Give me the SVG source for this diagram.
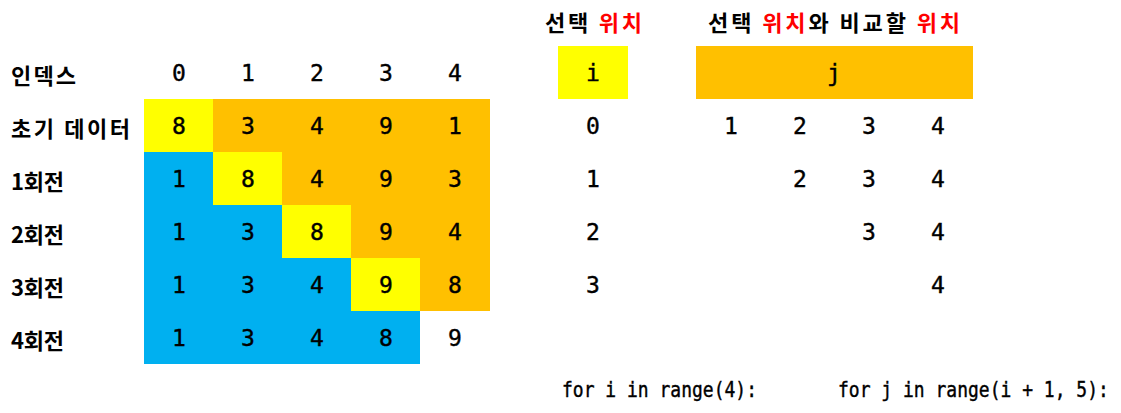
<svg xmlns="http://www.w3.org/2000/svg" width="1121" height="413" viewBox="0 0 1121 413">
<style>
.y{fill:#FFFF00}.o{fill:#FFC000}.b{fill:#00B0F0}
text{dominant-baseline:central}
.n{font-family:"DejaVu Sans Mono","Liberation Mono",monospace;font-size:23px;fill:#000;text-anchor:middle;stroke:#000;stroke-width:0.4}
.k{font-family:"Noto Sans CJK KR",sans-serif;font-size:22px;font-weight:bold;fill:#000}
.t{font-family:"Noto Sans CJK KR",sans-serif;font-size:22px;font-weight:bold;fill:#000}
.r{fill:#FF0000}
.c{font-family:"DejaVu Sans Mono","Liberation Mono",monospace;font-size:18px;fill:#000;stroke:#000;stroke-width:0.35}
</style>
<rect width="1121" height="413" fill="#fff"/>
<g id="cells">
<rect class="o" x="144" y="99" width="346" height="212"/>
<rect class="b" x="144" y="152" width="69" height="212"/>
<rect class="b" x="213" y="205" width="69" height="159"/>
<rect class="b" x="282" y="258" width="69" height="106"/>
<rect class="b" x="351" y="311" width="69" height="53"/>
<rect class="y" x="144" y="99" width="69" height="53"/>
<rect class="y" x="213" y="152" width="69" height="53"/>
<rect class="y" x="282" y="205" width="69" height="53"/>
<rect class="y" x="351" y="258" width="69" height="53"/>
<rect class="y" x="558" y="46" width="70" height="53"/>
<rect class="o" x="696" y="46" width="277" height="53"/>
</g>
<g id="row-labels">
<text class="k" x="11" y="74" textLength="65">인덱스</text>
<text class="k" x="11" y="127" textLength="119">초기 데이터</text>
<text class="k" x="11" y="180" textLength="53">1회전</text>
<text class="k" x="11" y="233" textLength="53">2회전</text>
<text class="k" x="11" y="286" textLength="53">3회전</text>
<text class="k" x="11" y="339" textLength="53">4회전</text>
</g>
<g id="index-row">
<text class="n" x="179" y="73">0</text><text class="n" x="248" y="73">1</text><text class="n" x="317" y="73">2</text><text class="n" x="386" y="73">3</text><text class="n" x="455" y="73">4</text>
</g>
<g id="data">
<text class="n" x="179" y="126">8</text><text class="n" x="248" y="126">3</text><text class="n" x="317" y="126">4</text><text class="n" x="386" y="126">9</text><text class="n" x="455" y="126">1</text>
<text class="n" x="179" y="179">1</text><text class="n" x="248" y="179">8</text><text class="n" x="317" y="179">4</text><text class="n" x="386" y="179">9</text><text class="n" x="455" y="179">3</text>
<text class="n" x="179" y="232">1</text><text class="n" x="248" y="232">3</text><text class="n" x="317" y="232">8</text><text class="n" x="386" y="232">9</text><text class="n" x="455" y="232">4</text>
<text class="n" x="179" y="285">1</text><text class="n" x="248" y="285">3</text><text class="n" x="317" y="285">4</text><text class="n" x="386" y="285">9</text><text class="n" x="455" y="285">8</text>
<text class="n" x="179" y="338">1</text><text class="n" x="248" y="338">3</text><text class="n" x="317" y="338">4</text><text class="n" x="386" y="338">8</text><text class="n" x="455" y="338">9</text>
</g>
<g id="titles">
<text class="t" x="545" y="21" textLength="97">선택 <tspan class="r">위치</tspan></text>
<text class="t" x="708" y="21" textLength="252">선택 <tspan class="r">위치</tspan>와 비교할 <tspan class="r">위치</tspan></text>
</g>
<g id="ij">
<text class="n" x="593" y="73">i</text>
<text class="n" x="834" y="73">j</text>
<text class="n" x="593" y="126">0</text><text class="n" x="731" y="126">1</text><text class="n" x="800" y="126">2</text><text class="n" x="869" y="126">3</text><text class="n" x="938" y="126">4</text>
<text class="n" x="593" y="179">1</text><text class="n" x="800" y="179">2</text><text class="n" x="869" y="179">3</text><text class="n" x="938" y="179">4</text>
<text class="n" x="593" y="232">2</text><text class="n" x="869" y="232">3</text><text class="n" x="938" y="232">4</text>
<text class="n" x="593" y="285">3</text><text class="n" x="938" y="285">4</text>
</g>
<g id="code" transform="translate(0,390) scale(1,1.2)">
<text class="c" x="562" y="0">for i in range(4):</text>
<text class="c" x="838" y="0">for j in range(i + 1, 5):</text>
</g>
</svg>
